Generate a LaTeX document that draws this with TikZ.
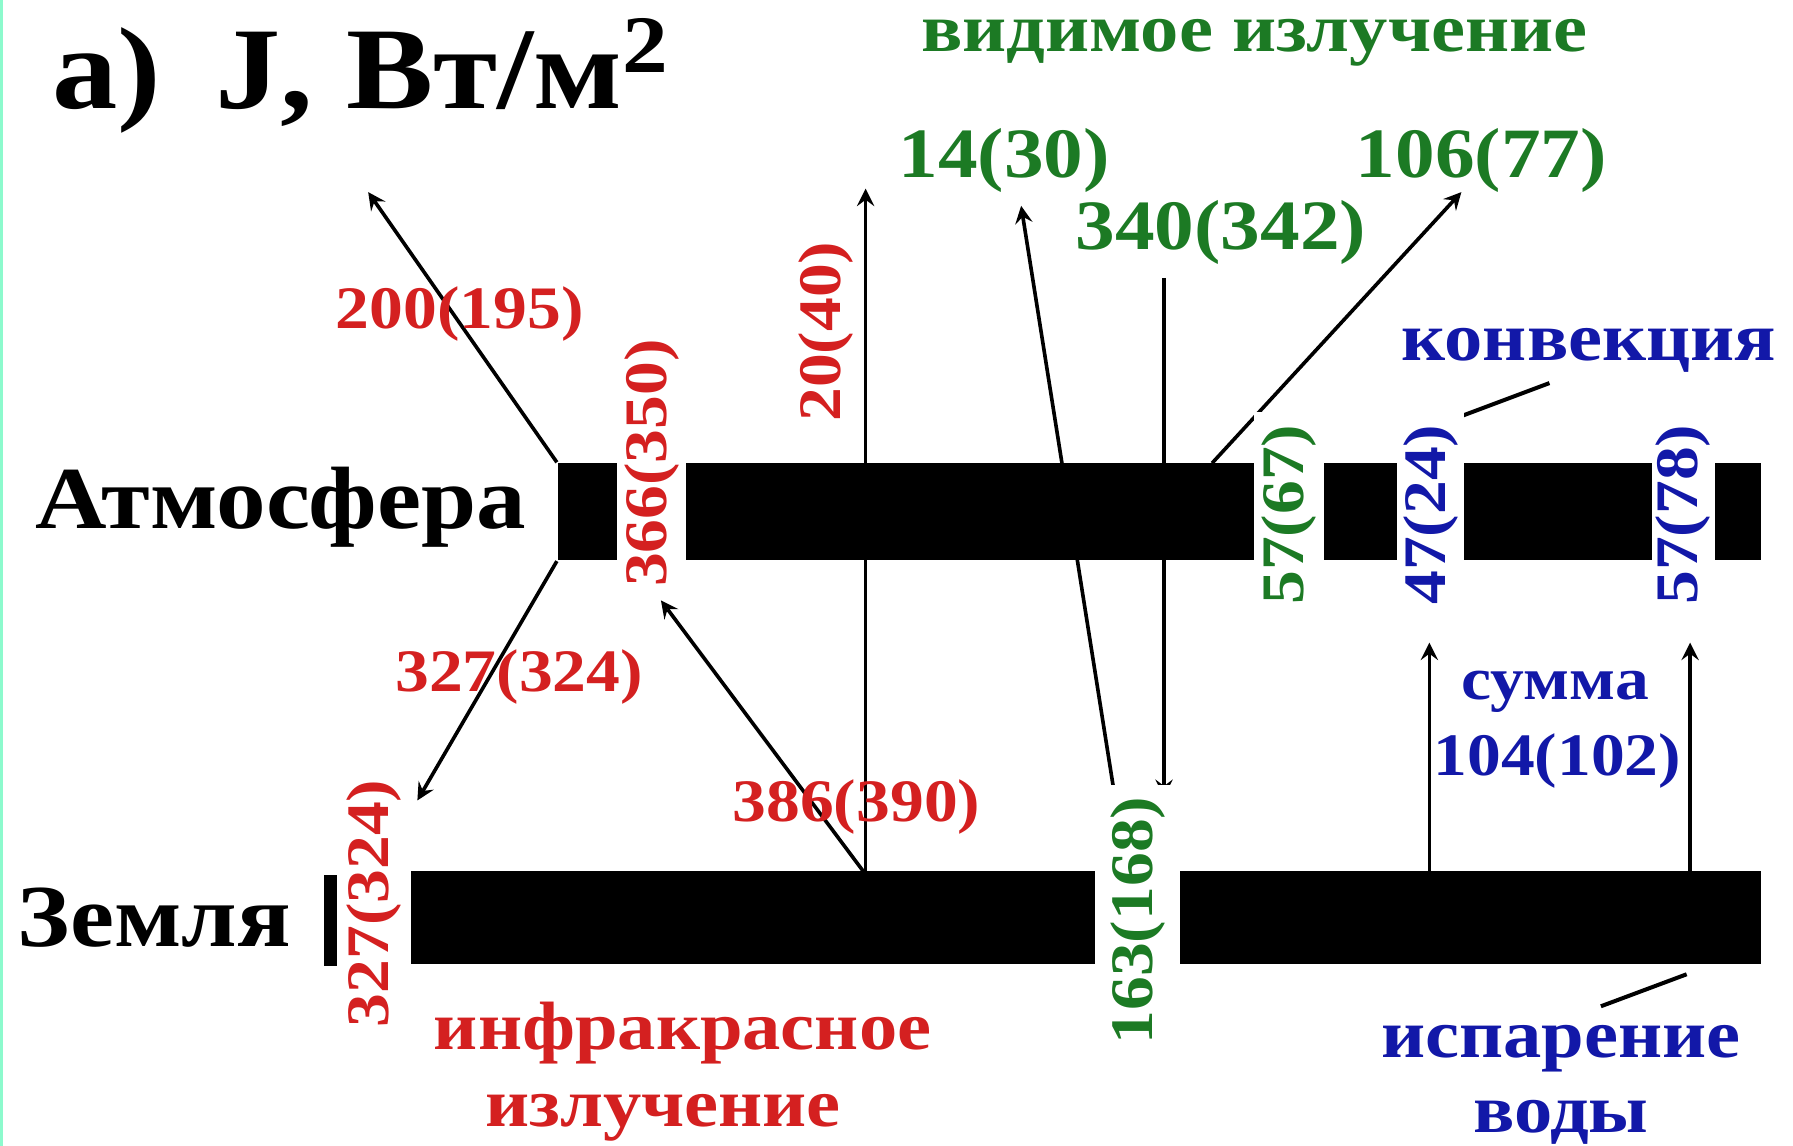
\documentclass[tikz,border=0pt]{standalone}
\usepackage{fontspec}
\setmainfont{Liberation Serif}[BoldFont={Liberation Serif Bold}]
\newfontfamily\tb{Liberation Serif Bold}
\newcommand{\sx}[1]{\scalebox{1.12}[1]{#1}}
\tikzset{
  ired/.style={text={rgb,255:red,212;green,32;blue,32}},
  vgreen/.style={text={rgb,255:red,28;green,122;blue,36}},
  cblue/.style={text={rgb,255:red,18;green,24;blue,168}},
  bar/.style={fill=black, draw=none, inner sep=0pt, rectangle},
  lbl/.style={font=\fontsize{15}{15}\selectfont\tb, inner sep=0pt},
  vlbl/.style={lbl, rotate=90, fill=white, inner xsep=3pt},
  big/.style={font=\fontsize{17.6}{18}\selectfont\tb, inner sep=0pt},
  word/.style={font=\fontsize{17}{19}\selectfont\tb, inner sep=0pt, align=center},
  head/.style={font=\fontsize{22}{24}\selectfont\tb, inner sep=0pt},
  flux/.style={draw=black, line width=0.9pt, -stealth},
  ptr/.style={draw=black, line width=1pt},
}
\begin{document}
\begin{tikzpicture}[x=0.01cm,y=0.01cm]
\useasboundingbox (0,-1002) rectangle (1568,0);
\fill[fill={rgb,255:red,140;green,250;blue,205}] (0,-1002) rectangle (3,0);

% bars
\node[bar, minimum width=10.52cm, minimum height=0.85cm] (atm) at (1014,-447.5) {};
\node[bar, minimum width=11.8cm, minimum height=0.81cm] (earth) at (950,-802.5) {};
\node[bar, minimum width=0.12cm, minimum height=0.8cm] (strip) at (289,-805) {};

% free ends and anchor points
\coordinate (t200) at (322,-168);
\coordinate (t327) at (365,-700);
\coordinate (s386) at (755,-762);
\coordinate (t386) at (578,-525);
\coordinate (s20) at (757,-762);
\coordinate (t20) at (757,-165);
\coordinate (s14) at (975,-697);
\coordinate (t14) at (893,-180);
\coordinate (s340) at (1018,-243);
\coordinate (t340) at (1018,-697);
\coordinate (s106) at (1060,-405);
\coordinate (t106) at (1278,-168);
\coordinate (sA) at (1250,-762);
\coordinate (tA) at (1250,-562);
\coordinate (sB) at (1478,-762);
\coordinate (tB) at (1478,-562);
\coordinate (k1) at (1275,-365);
\coordinate (k2) at (1355,-335);
\coordinate (e1) at (1400,-880);
\coordinate (e2) at (1475,-852);

% arrows
\draw[flux] (atm.north west) -- (t200);
\draw[flux] (atm.south west) -- (t327);
\draw[flux] (s386) -- (t386);
\draw[flux] (s20) -- (t20);
\draw[flux] (s14) -- (t14);
\draw[flux] (s340) -- (t340);
\draw[flux] (s106) -- (t106);
\draw[flux] (sA) -- (tA);
\draw[flux] (sB) -- (tB);
\draw[ptr] (k1) -- (k2);
\draw[ptr] (e1) -- (e2);

% vertical labels cutting the bars
\node[vlbl, ired, minimum height=0.6cm] (l366) at (570,-405) {\sx{366(350)}};
\node[vlbl, ired, fill=none] (l20) at (722,-290) {\sx{20(40)}};
\node[vlbl, vgreen, minimum height=0.61cm] (l57a) at (1127,-450) {\sx{57(67)}};
\node[vlbl, cblue, minimum height=0.58cm] (l47) at (1251,-450) {\sx{47(24)}};
\node[vlbl, cblue, minimum height=0.55cm] (l57b) at (1472,-450) {\sx{57(78)}};
\node[vlbl, ired, minimum height=0.65cm] (l327v) at (327,-790) {\sx{327(324)}};
\node[vlbl, vgreen, minimum height=0.74cm] (l163) at (995,-805) {\sx{163(168)}};

% horizontal labels
\node[anchor=base west, font=\fontsize{29}{30}\selectfont\tb, inner sep=0pt] (title) at (45,-95) {\sx{а)\, J, Вт/м\textsuperscript{2}}};
\node[anchor=base west, word, vgreen] (vis) at (805,-45) {\sx{видимое излучение}};
\node[anchor=base west, big, vgreen] (l14) at (785,-155) {\sx{14(30)}};
\node[anchor=base west, big, vgreen] (l106) at (1185,-155) {\sx{106(77)}};
\node[anchor=base west, big, vgreen] (l340) at (940,-218) {\sx{340(342)}};
\node[anchor=base west, word, cblue] (konv) at (1225,-315) {\sx{конвекция}};
\node[anchor=base west, lbl, ired] (l200) at (293,-287) {\sx{200(195)}};
\node[anchor=base west, head] (atmt) at (30,-462) {\sx{Атмосфера}};
\node[anchor=base west, lbl, ired] (l327h) at (345,-605) {\sx{327(324)}};
\node[anchor=base, lbl, cblue] (summa) at (1360,-612) {\sx{сумма}};
\node[anchor=base, lbl, cblue] (l104) at (1362,-678) {\sx{104(102)}};
\node[anchor=base west, lbl, ired] (l386) at (640,-718) {\sx{386(390)}};
\node[anchor=base west, head] (zem) at (15,-828) {\sx{Земля}};
\node[anchor=base, word, ired] (ir1) at (597,-918) {\sx{инфракрасное}};
\node[anchor=base, word, ired] (ir2) at (580,-985) {\sx{излучение}};
\node[anchor=base, word, cblue] (isp1) at (1365,-925) {\sx{испарение}};
\node[anchor=base, word, cblue] (isp2) at (1365,-990) {\sx{воды}};
\end{tikzpicture}
\end{document}
